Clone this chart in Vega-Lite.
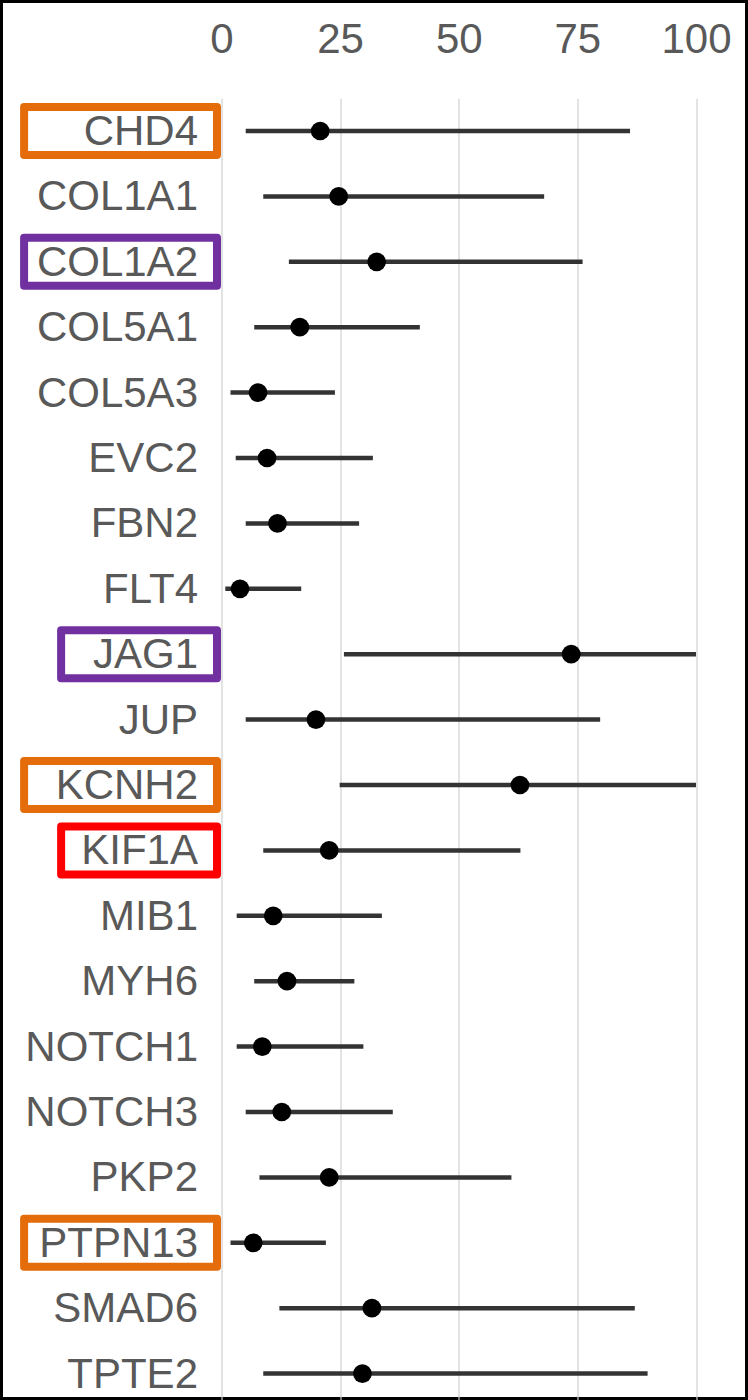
{
  "$schema": "https://vega.github.io/schema/vega-lite/v6.json",
  "width": 745,
  "height": 1397,
  "autosize": {"type": "none"},
  "padding": 1.5,
  "background": "white",
  "config": {"view": {"stroke": "#000000", "strokeWidth": 3}, "font": "Liberation Sans"},
  "data": {"values": [
    {"gene": "CHD4", "lo": 5.1, "est": 20.8, "hi": 86.1, "box": "orange"},
    {"gene": "COL1A1", "lo": 8.8, "est": 24.7, "hi": 68.0},
    {"gene": "COL1A2", "lo": 14.2, "est": 32.7, "hi": 76.1, "box": "purple"},
    {"gene": "COL5A1", "lo": 6.9, "est": 16.5, "hi": 41.8},
    {"gene": "COL5A3", "lo": 1.9, "est": 7.7, "hi": 23.9},
    {"gene": "EVC2", "lo": 3.0, "est": 9.6, "hi": 31.9},
    {"gene": "FBN2", "lo": 5.1, "est": 11.8, "hi": 29.0},
    {"gene": "FLT4", "lo": 0.8, "est": 3.9, "hi": 16.8},
    {"gene": "JAG1", "lo": 25.8, "est": 73.7, "hi": 100, "box": "purple"},
    {"gene": "JUP", "lo": 5.1, "est": 19.9, "hi": 79.8},
    {"gene": "KCNH2", "lo": 24.9, "est": 62.9, "hi": 100, "box": "orange"},
    {"gene": "KIF1A", "lo": 8.8, "est": 22.7, "hi": 63.0, "box": "red"},
    {"gene": "MIB1", "lo": 3.2, "est": 10.9, "hi": 33.8},
    {"gene": "MYH6", "lo": 6.9, "est": 13.8, "hi": 28.0},
    {"gene": "NOTCH1", "lo": 3.2, "est": 8.6, "hi": 29.9},
    {"gene": "NOTCH3", "lo": 5.1, "est": 12.7, "hi": 36.1},
    {"gene": "PKP2", "lo": 8.0, "est": 22.7, "hi": 61.1},
    {"gene": "PTPN13", "lo": 1.9, "est": 6.7, "hi": 22.0, "box": "orange"},
    {"gene": "SMAD6", "lo": 12.2, "est": 31.7, "hi": 87.1},
    {"gene": "TPTE2", "lo": 8.8, "est": 29.7, "hi": 89.8}
  ]},
  "encoding": {
    "y": {
      "field": "gene",
      "type": "nominal",
      "scale": {
        "type": "band",
        "domain": ["CHD4","COL1A1","COL1A2","COL5A1","COL5A3","EVC2","FBN2","FLT4","JAG1","JUP","KCNH2","KIF1A","MIB1","MYH6","NOTCH1","NOTCH3","PKP2","PTPN13","SMAD6","TPTE2"],
        "range": [96.8, 1404.8],
        "paddingInner": 0,
        "paddingOuter": 0
      },
      "axis": {
        "orient": "left",
        "offset": -220,
        "title": null,
        "domain": false,
        "ticks": false,
        "tickSize": 0,
        "grid": false,
        "labelPadding": 24,
        "labelFontSize": 42,
        "labelColor": "#595959",
        "labelFont": "Liberation Sans",
        "labelBaseline": "alphabetic",
        "labelOffset": 14,
        "labelLimit": 0
      }
    }
  },
  "layer": [
    {
      "mark": {"type": "rule", "strokeWidth": 4.5, "color": "#333333"},
      "encoding": {
        "x": {
          "field": "lo",
          "type": "quantitative",
          "scale": {"domain": [0, 100], "range": [220, 694.5], "nice": false, "zero": false},
          "axis": {
            "orient": "top",
            "offset": -50.5,
            "values": [0, 25, 50, 75, 100],
            "title": null,
            "domain": false,
            "ticks": false,
            "tickSize": 0,
            "labelPadding": 0,
            "labelFontSize": 42,
            "labelColor": "#595959",
            "labelFont": "Liberation Sans",
            "labelBaseline": "alphabetic",
            "labelFlush": false,
            "labelOverlap": false,
            "labelBound": false,
            "grid": true,
            "gridColor": "#D0D0D0",
            "gridWidth": 1.2
          }
        },
        "x2": {"field": "hi"}
      }
    },
    {
      "mark": {"type": "circle", "size": 350, "color": "#000000", "opacity": 1},
      "encoding": {"x": {"field": "est", "type": "quantitative"}}
    },
    {
      "transform": [{"filter": {"field": "gene", "oneOf": ["CHD4", "COL1A2", "KCNH2", "PTPN13"]}}],
      "mark": {"type": "rect", "filled": false, "strokeWidth": 8, "strokeJoin": "round", "height": {"band": 0.734}},
      "encoding": {
        "x": {"datum": -41.6, "type": "quantitative"},
        "x2": {"datum": -0.95},
        "stroke": {"field": "box", "type": "nominal", "scale": {"domain": ["orange", "purple", "red"], "range": ["#E46C0A", "#7030A0", "#FF0000"]}, "legend": null}
      }
    },
    {
      "transform": [{"filter": {"field": "gene", "oneOf": ["JAG1", "KIF1A"]}}],
      "mark": {"type": "rect", "filled": false, "strokeWidth": 8, "strokeJoin": "round", "height": {"band": 0.734}},
      "encoding": {
        "x": {"datum": -33.8, "type": "quantitative"},
        "x2": {"datum": -0.95},
        "stroke": {"field": "box", "type": "nominal", "legend": null}
      }
    }
  ]
}
